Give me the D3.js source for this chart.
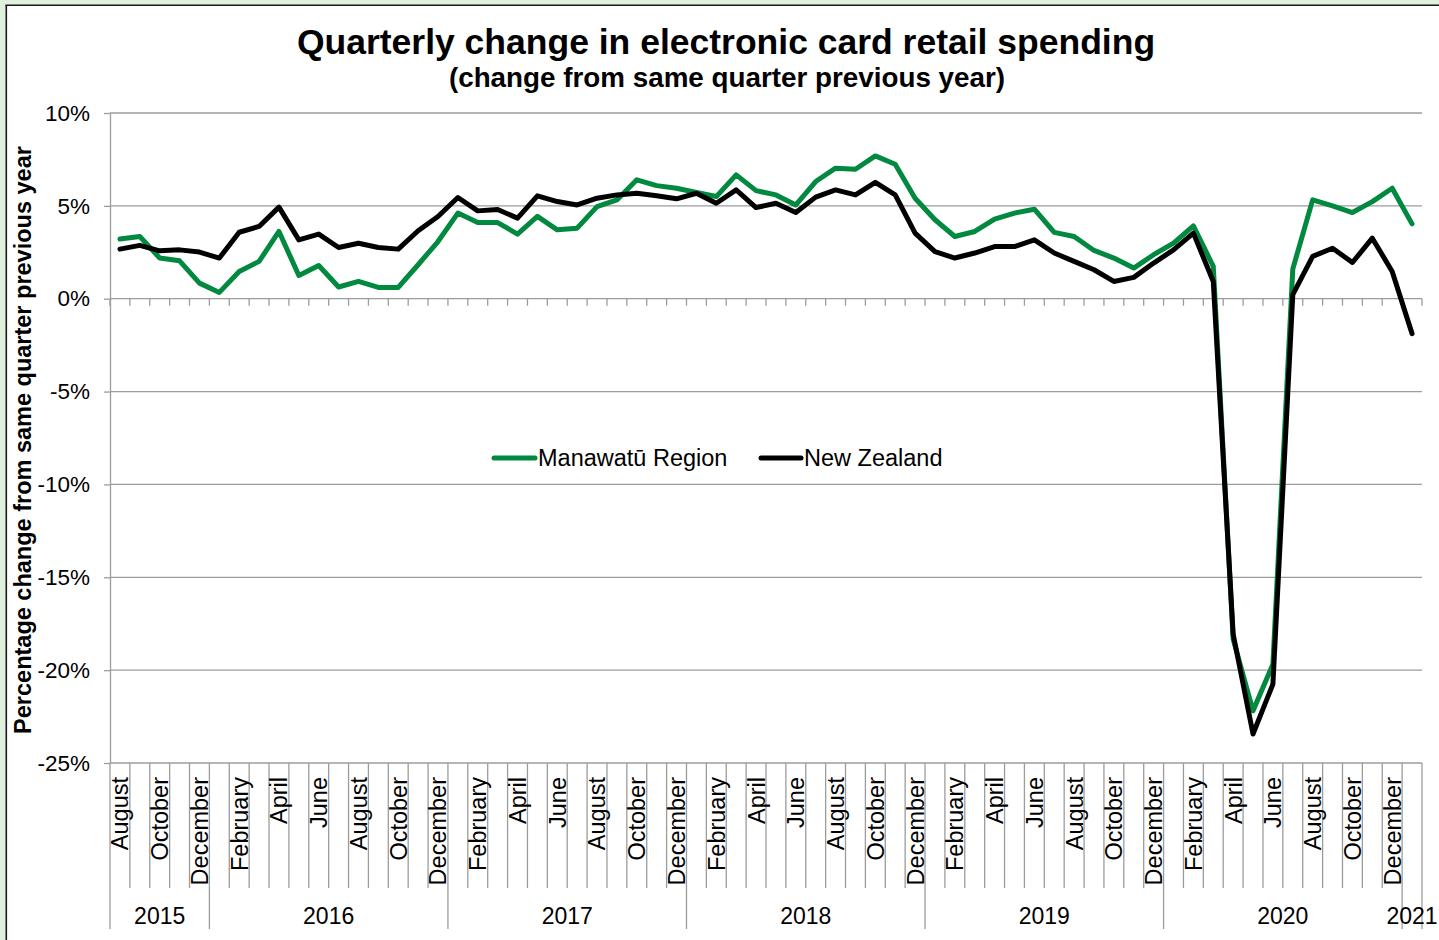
<!DOCTYPE html>
<html>
<head>
<meta charset="utf-8">
<title>Quarterly change in electronic card retail spending</title>
<script src="https://cdn.jsdelivr.net/npm/d3@7"></script>
<style>
  body { margin: 0; background: #fff; }
  svg text { font-family: "Liberation Sans", Arial, sans-serif; fill: #000; }
</style>
</head>
<body>
<div id="chart"></div>
<script>
/*
 * Electronic card spending chart
 */

// one category per month, Aug 2015 .. Jan 2021
var months = [
  "Aug 2015","Sep 2015","Oct 2015","Nov 2015","Dec 2015",
  "Jan 2016","Feb 2016","Mar 2016","Apr 2016","May 2016","Jun 2016","Jul 2016","Aug 2016","Sep 2016","Oct 2016","Nov 2016","Dec 2016",
  "Jan 2017","Feb 2017","Mar 2017","Apr 2017","May 2017","Jun 2017","Jul 2017","Aug 2017","Sep 2017","Oct 2017","Nov 2017","Dec 2017",
  "Jan 2018","Feb 2018","Mar 2018","Apr 2018","May 2018","Jun 2018","Jul 2018","Aug 2018","Sep 2018","Oct 2018","Nov 2018","Dec 2018",
  "Jan 2019","Feb 2019","Mar 2019","Apr 2019","May 2019","Jun 2019","Jul 2019","Aug 2019","Sep 2019","Oct 2019","Nov 2019","Dec 2019",
  "Jan 2020","Feb 2020","Mar 2020","Apr 2020","May 2020","Jun 2020","Jul 2020","Aug 2020","Sep 2020","Oct 2020","Nov 2020","Dec 2020",
  "Jan 2021"
];

var monthNames = {
  Jan: "January", Feb: "February", Mar: "March", Apr: "April", May: "May", Jun: "June",
  Jul: "July", Aug: "August", Sep: "September", Oct: "October", Nov: "November", Dec: "December"
};

var manawatu = [
  3.21, 3.35, 2.19, 2.04, 0.84,
  0.34, 1.47, 2.01, 3.62, 1.25, 1.79, 0.63, 0.93, 0.61, 0.61, 1.83, 3.08,
  4.61, 4.10, 4.10, 3.48, 4.43, 3.71, 3.80, 4.96, 5.32, 6.40, 6.09, 5.95,
  5.72, 5.50, 6.67, 5.82, 5.59, 5.05, 6.31, 7.03, 6.97, 7.69, 7.24, 5.41,
  4.25, 3.35, 3.62, 4.28, 4.61, 4.82, 3.57, 3.35, 2.60, 2.19, 1.65, 2.37,
  2.99, 3.92, 1.74, -18.33, -22.19, -19.68, 1.60, 5.32, 5.00, 4.64, 5.23, 5.95,
  4.03
];

var newZealand = [
  2.67, 2.87, 2.58, 2.63, 2.51,
  2.19, 3.58, 3.89, 4.93, 3.17, 3.48, 2.76, 2.99, 2.76, 2.67, 3.66, 4.43,
  5.45, 4.73, 4.80, 4.34, 5.54, 5.23, 5.05, 5.41, 5.59, 5.68, 5.54, 5.38,
  5.68, 5.14, 5.86, 4.91, 5.14, 4.64, 5.47, 5.86, 5.59, 6.27, 5.59, 3.53,
  2.54, 2.19, 2.46, 2.81, 2.81, 3.17, 2.46, 2.01, 1.56, 0.93, 1.15, 1.92,
  2.63, 3.53, 0.93, -18.06, -23.44, -20.75, 0.22, 2.28, 2.72, 1.95, 3.26, 1.47,
  -1.88
];

var yTicks = [-25, -20, -15, -10, -5, 0, 5, 10];

var series = [
  { name: "Manawatū Region", values: manawatu, color: "#00893f" },
  { name: "New Zealand", values: newZealand, color: "#000000" }
];

var COLORS = {
  grid: "#9c9c9c",
  frame: "#dff0dd",
  border: "#1a1a1a"
};

var W = 1439, H = 940;
var plot = { left: 110, right: 1422, top: 113, bottom: 763 };

var svg = d3.select("#chart").append("svg").attr("width", W).attr("height", H);

// frame: pale green strip with dark edge on top and left
svg.append("rect").attr("width", W).attr("height", H).style("fill", COLORS.frame);
svg.append("rect").attr("x", 7).attr("y", 6).attr("width", W).attr("height", H).style("fill", "#fff");
svg.append("line").attr("x1", 6.3).attr("x2", 6.3).attr("y1", 5).attr("y2", H)
  .style("stroke", COLORS.border).style("stroke-width", 1.6);
svg.append("line").attr("x1", 5.5).attr("x2", W).attr("y1", 5.3).attr("y2", 5.3)
  .style("stroke", COLORS.border).style("stroke-width", 1.6);

// scales
var idx = d3.range(months.length);
var x = d3.scaleBand().domain(idx).range([plot.left, plot.right]).padding(0);
var xEdge = d3.scaleLinear().domain([0, months.length]).range([plot.left, plot.right]);
var y = d3.scaleLinear().domain([-25, 10]).range([plot.bottom, plot.top]);

// titles
svg.append("text").attr("x", 726).attr("y", 54).attr("text-anchor", "middle")
  .style("font-size", "35.5px").style("font-weight", "bold")
  .text("Quarterly change in electronic card retail spending");
svg.append("text").attr("x", 727).attr("y", 87).attr("text-anchor", "middle")
  .style("font-size", "27.8px").style("font-weight", "bold")
  .text("(change from same quarter previous year)");

svg.append("text").attr("transform", "translate(31,440) rotate(-90)").attr("text-anchor", "middle")
  .style("font-size", "23.5px").style("font-weight", "bold")
  .text("Percentage change from same quarter previous year");

// gridlines
svg.append("g").selectAll("line").data(yTicks).enter().append("line")
  .attr("x1", plot.left).attr("x2", plot.right)
  .attr("y1", function(d){ return y(d); }).attr("y2", function(d){ return y(d); })
  .style("stroke", COLORS.grid).style("stroke-width", 1.3);

// y axis
var yAxis = svg.append("g").attr("transform", "translate(" + plot.left + ",0)")
  .call(d3.axisLeft(y).tickValues(yTicks).tickSize(6).tickSizeOuter(0).tickPadding(14)
    .tickFormat(function(d){ return d + "%"; }));
yAxis.select(".domain").style("stroke", COLORS.grid).style("stroke-width", 1.3);
yAxis.selectAll(".tick line").style("stroke", COLORS.grid).style("stroke-width", 1.3);
yAxis.selectAll(".tick text").style("font-size", "22.5px").style("font-family", "'Liberation Sans', Arial, sans-serif");

// tick marks on the zero line at month edges
svg.append("g").selectAll("line").data(d3.range(months.length + 1)).enter().append("line")
  .attr("x1", function(d){ return xEdge(d); }).attr("x2", function(d){ return xEdge(d); })
  .attr("y1", y(0)).attr("y2", y(0) + 7)
  .style("stroke", COLORS.grid).style("stroke-width", 1.3);

// category label area: month separators and year separators
function yearOf(i){ return months[i].split(" ")[1]; }
function isYearEdge(e){
  return e === 0 || e === months.length || yearOf(e) !== yearOf(e - 1);
}

svg.append("g").selectAll("line").data(d3.range(months.length + 1)).enter().append("line")
  .attr("x1", function(d){ return xEdge(d); }).attr("x2", function(d){ return xEdge(d); })
  .attr("y1", plot.bottom)
  .attr("y2", function(d){ return isYearEdge(d) ? 929 : 888; })
  .style("stroke", COLORS.grid).style("stroke-width", 1.3);

// month labels, every second month
svg.append("g").selectAll("text").data(idx.filter(function(i){ return i % 2 === 0; })).enter().append("text")
  .attr("transform", function(i){ return "translate(" + (x(i) + x.bandwidth() / 2) + ",777) rotate(-90)"; })
  .attr("dy", "0.36em").attr("text-anchor", "end")
  .style("font-size", "23.5px")
  .text(function(i){ return monthNames[months[i].split(" ")[0]]; });

// year labels centred on their months
var years = d3.groups(idx, yearOf);
svg.append("g").selectAll("text").data(years).enter().append("text")
  .attr("x", function(g){
    var a = g[1][0], b = g[1][g[1].length - 1];
    return (x(a) + x(b) + x.bandwidth()) / 2;
  })
  .attr("y", 924).attr("text-anchor", "middle")
  .style("font-size", "23px")
  .text(function(g){ return g[0]; });

// lines
var line = d3.line()
  .x(function(d, i){ return x(i) + x.bandwidth() / 2; })
  .y(function(d){ return y(d); });

series.forEach(function(s){
  svg.append("path").datum(s.values).attr("d", line)
    .style("fill", "none").style("stroke", s.color).style("stroke-width", 5)
    .style("stroke-linejoin", "round").style("stroke-linecap", "round");
});

// legend
var legendPos = [{ x: 494, w: 41 }, { x: 761, w: 40 }];
series.forEach(function(s, i){
  var p = legendPos[i];
  svg.append("line").attr("x1", p.x).attr("x2", p.x + p.w).attr("y1", 458).attr("y2", 458)
    .style("stroke", s.color).style("stroke-width", 5).style("stroke-linecap", "round");
  svg.append("text").attr("x", p.x + p.w + 3).attr("y", 466)
    .style("font-size", "23.5px").text(s.name);
});
</script>
</body>
</html>
